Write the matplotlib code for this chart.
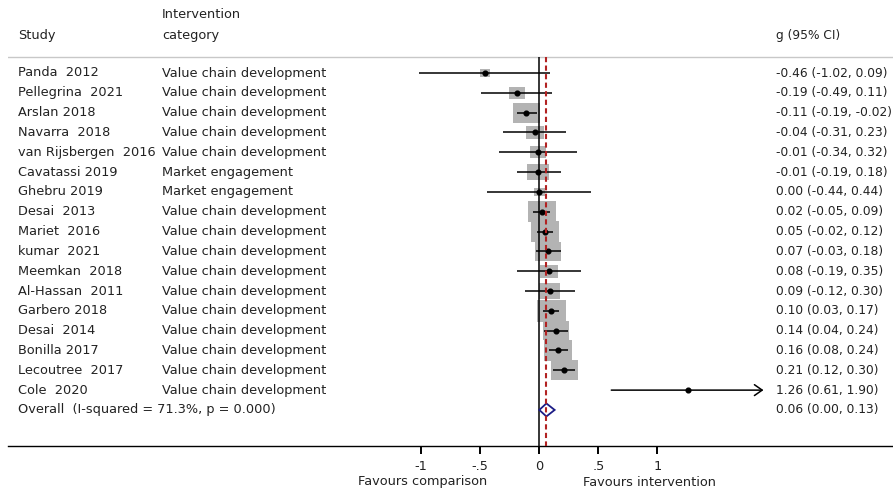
import matplotlib
matplotlib.use("Agg")
import matplotlib.pyplot as plt
from matplotlib.patches import Rectangle, Polygon

INK = "#222222"
BOX = "#b3b3b3"
NAVY = "#1c1c86"
RED = "#b22222"
plt.rcParams.update({"font.family": "DejaVu Sans", "font.size": 9.3,
                     "text.color": INK, "xtick.color": "black",
                     "xtick.labelcolor": INK})

studies = ["Panda  2012", "Pellegrina  2021", "Arslan 2018", "Navarra  2018",
           "van Rijsbergen  2016", "Cavatassi 2019", "Ghebru 2019", "Desai  2013",
           "Mariet  2016", "kumar  2021", "Meemkan  2018", "Al-Hassan  2011",
           "Garbero 2018", "Desai  2014", "Bonilla 2017", "Lecoutree  2017",
           "Cole  2020"]
categories = ["Value chain development"] * 5 + ["Market engagement"] * 2 + \
             ["Value chain development"] * 10
g = [-0.46, -0.19, -0.11, -0.04, -0.01, -0.01, 0.00, 0.02, 0.05, 0.07,
     0.08, 0.09, 0.10, 0.14, 0.16, 0.21, 1.26]
lo = [-1.02, -0.49, -0.19, -0.31, -0.34, -0.19, -0.44, -0.05, -0.02, -0.03,
      -0.19, -0.12, 0.03, 0.04, 0.08, 0.12, 0.61]
hi = [0.09, 0.11, -0.02, 0.23, 0.32, 0.18, 0.44, 0.09, 0.12, 0.18,
      0.35, 0.30, 0.17, 0.24, 0.24, 0.30, 1.90]
# approximate study weights (%)
weights = [1.2, 3.1, 8.8, 3.9, 3.1, 5.8, 1.5, 9.4, 9.4, 8.1,
           3.9, 5.3, 10.1, 8.1, 9.4, 8.8, 0.2]
overall_g, overall_lo, overall_hi = 0.06, 0.00, 0.13
overall_label = "Overall  (I-squared = 71.3%, p = 0.000)"
xticks = [-1, -0.5, 0, 0.5, 1]
xticklabels = ["-1", "-.5", "0", ".5", "1"]

# ---- layout (pixels of the 893x493 canvas) ----
W, H = 893, 493
X0, PXU = 539.3, 118.0          # pixel of g=0, pixels per unit of g
ROW0, ROWH = 73.0, 19.82        # pixel of first row, row pitch
AX_LEFT, AX_BOTTOM = 8, 446
CI_FS = 8.8                     # right column, a touch smaller so it fits


def dx(px):
    return (px - X0) / PXU


def dy(py):
    return (py - ROW0) / ROWH


fig = plt.figure(figsize=(W / 100, H / 100), dpi=100)
ax = fig.add_axes([AX_LEFT / W, (H - AX_BOTTOM) / H, (W - AX_LEFT) / W, AX_BOTTOM / H])
ax.set_xlim(dx(AX_LEFT), dx(W))
ax.set_ylim(dy(AX_BOTTOM), dy(0))
for s in ["top", "right", "left"]:
    ax.spines[s].set_visible(False)
ax.spines["bottom"].set_linewidth(1.0)
ax.set_yticks([])
ax.set_xticks(xticks)
ax.set_xticklabels(xticklabels)
ax.tick_params(axis="x", direction="out", length=6, width=1.4, pad=4)

n = len(studies)
rows = list(range(n))
top = dy(57)

# header + separator
ax.axhline(top, color="#c8c8c8", lw=1.0)
ax.text(dx(18), dy(35), "Study", va="center")
ax.text(dx(162), dy(15), "Intervention", va="center")
ax.text(dx(162), dy(35), "category", va="center")
ax.text(dx(776), dy(35), "g (95% CI)", va="center", fontsize=CI_FS)

# reference lines
ax.vlines(0, top, dy(AX_BOTTOM), color="black", lw=1.1, zorder=2)
ax.vlines(overall_g, top, dy(AX_BOTTOM), color=RED, lw=1.5,
          linestyles=(0, (2.5, 1.6)), zorder=5)

# weight boxes, CIs, points
k = 9.13  # px of box width per sqrt(weight)
for i in rows:
    bw = k * weights[i] ** 0.5
    bh = 0.74 * bw
    ax.add_patch(Rectangle((g[i] - bw / PXU / 2, i - bh / ROWH / 2),
                           bw / PXU, bh / ROWH, color=BOX, lw=0, zorder=1))
    if i == n - 1:
        ax.annotate("", xy=(hi[i], i), xytext=(lo[i], i), zorder=3,
                    arrowprops=dict(arrowstyle="->,head_length=0.6,head_width=0.42",
                                    lw=1.1, color="black", shrinkA=0, shrinkB=0))
    else:
        ax.hlines(i, lo[i], hi[i], color="black", lw=1.1, zorder=3)
    ax.plot(g[i], i, "o", color="black", ms=3.4, zorder=4)
    ax.text(dx(18), i, studies[i], va="center")
    ax.text(dx(162), i, categories[i], va="center")
    ax.text(dx(776), i, f"{g[i]:.2f} ({lo[i]:.2f}, {hi[i]:.2f})", va="center",
            fontsize=CI_FS)

# overall diamond
yo = n
hd = 6.5 / ROWH
ax.add_patch(Polygon([(overall_lo, yo), (overall_g, yo - hd), (overall_hi, yo),
                      (overall_g, yo + hd)], closed=True, fill=False,
                     edgecolor=NAVY, lw=1.3, zorder=4))
ax.text(dx(18), yo, overall_label, va="center")
ax.text(dx(776), yo, f"{overall_g:.2f} ({overall_lo:.2f}, {overall_hi:.2f})",
        va="center", fontsize=CI_FS)

# favours labels
ax.text(dx(423), dy(482), "Favours comparison", ha="center", va="center", clip_on=False)
ax.text(dx(650), dy(482), "Favours intervention", ha="center", va="center", clip_on=False)

fig.savefig("out.png", dpi=100)
